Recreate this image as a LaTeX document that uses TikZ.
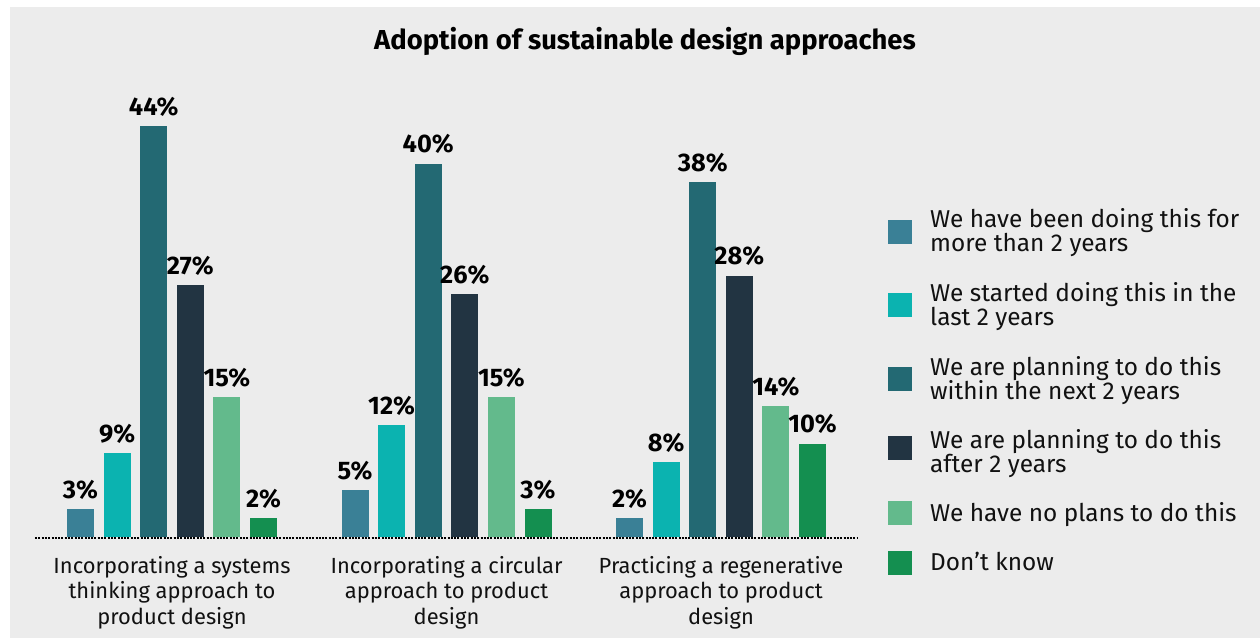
\documentclass[tikz,border=0pt]{standalone}
\usepackage{fontspec}
\setmainfont{Fira Sans}
\definecolor{bgc}{HTML}{ECECEC}
\definecolor{c0}{HTML}{3A8096}
\definecolor{c1}{HTML}{0BB3B0}
\definecolor{c2}{HTML}{236973}
\definecolor{c3}{HTML}{223442}
\definecolor{c4}{HTML}{63BA8C}
\definecolor{c5}{HTML}{148F50}
\definecolor{txt}{HTML}{111111}
\tikzset{
  pct/.style={font=\fontsize{25.4}{28}\selectfont\bfseries, text=black, inner sep=0pt, anchor=base},
  cat/.style={font=\fontsize{21.9}{25}\selectfont, text=txt, inner sep=0pt, anchor=base},
  leg/.style={font=\fontsize{24.4}{24}\selectfont, text=txt, inner sep=0pt, anchor=base west},
  sq/.style={minimum size=24pt, inner sep=0pt, draw=none},
  ttl/.style={font=\fontsize{27.4}{28}\selectfont\bfseries, text=black, inner sep=0pt, anchor=base}
}
\begin{document}
\begin{tikzpicture}[x=1pt,y=-1pt]
\useasboundingbox (0,0) rectangle (1260,638);
\fill[white] (0,0) rectangle (1260,638);
\fill[bgc] (10,7) rectangle (1260,638);
% title
\node[ttl] (title) at (645,49.5) {Adoption of sustainable design approaches};
% bars
\foreach \g/\vals in {0/{3,9,44,27,15,2},1/{5,12,40,26,15,3},2/{2,8,38,28,14,10}} {
  \foreach \v [count=\i from 0] in \vals {
    \pgfmathsetmacro\xl{67+274.5*\g+36.6*\i}
    \pgfmathsetmacro\ytop{537-9.33*\v}
    \fill[c\i] (\xl,537) rectangle (\xl+27,\ytop);
    \node[pct] (p\g\i) at (\xl+13.5,\ytop-11) {\v\%};
  }
}
% axis
\coordinate (axL) at (35,538);
\coordinate (axR) at (858,538);
\draw[line width=2pt, dash pattern=on 2pt off 1.3pt, black] (axL) -- (axR);
% category labels
\node[cat] (g0a) at (172,573) {Incorporating a systems};
\node[cat] (g0b) at (172,598.5) {thinking approach to};
\node[cat] (g0c) at (172,624) {product design};
\node[cat] (g1a) at (446.5,573) {Incorporating a circular};
\node[cat] (g1b) at (446.5,598.5) {approach to product};
\node[cat] (g1c) at (446.5,624) {design};
\node[cat] (g2a) at (721,573) {Practicing a regenerative};
\node[cat] (g2b) at (721,598.5) {approach to product};
\node[cat] (g2c) at (721,624) {design};
% legend
\node[sq, fill=c0] (s0) at (900,232) {};
\node[sq, fill=c1] (s1) at (900,305) {};
\node[sq, fill=c2] (s2) at (900,379) {};
\node[sq, fill=c3] (s3) at (900,448) {};
\node[sq, fill=c4] (s4) at (900,513) {};
\node[sq, fill=c5] (s5) at (900,563) {};
\node[leg] (l0a) at (930,227.5) {We have been doing this for};
\node[leg] (l0b) at (930,251.5) {more than 2 years};
\node[leg] (l1a) at (930,301) {We started doing this in the};
\node[leg] (l1b) at (930,325) {last 2 years};
\node[leg] (l2a) at (930,375) {We are planning to do this};
\node[leg] (l2b) at (930,399) {within the next 2 years};
\node[leg] (l3a) at (930,448) {We are planning to do this};
\node[leg] (l3b) at (930,472) {after 2 years};
\node[leg] (l4a) at (930,521.5) {We have no plans to do this};
\node[leg] (l5a) at (930,570) {Don’t know};
\end{tikzpicture}
\end{document}
